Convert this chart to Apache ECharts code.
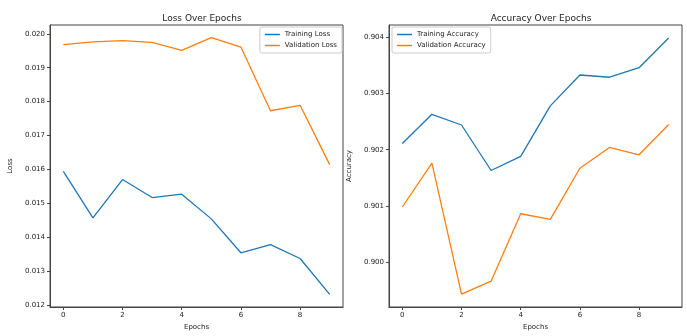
<!DOCTYPE html>
<html>
<head>
<meta charset="utf-8">
<script src="https://cdn.jsdelivr.net/npm/echarts@6/dist/echarts.min.js"></script>
<style>
  html, body { margin: 0; padding: 0; background: #fff; }
  #chart { width: 687px; height: 336px; }
</style>
</head>
<body>
<div id="chart"></div>
<script>
// data
const epochs = [0, 1, 2, 3, 4, 5, 6, 7, 8, 9];
const trainLoss = [0.01594, 0.01457, 0.01570, 0.01517, 0.01527, 0.01454, 0.01354, 0.01378, 0.01337, 0.01231];
const valLoss = [0.01968, 0.01976, 0.01980, 0.01975, 0.01951, 0.01989, 0.01961, 0.01773, 0.01789, 0.01614];
const trainAcc = [0.90211, 0.90263, 0.90244, 0.90163, 0.90188, 0.90278, 0.90333, 0.90329, 0.90346, 0.90399];
const valAcc = [0.90098, 0.90176, 0.89943, 0.89966, 0.90086, 0.90076, 0.90167, 0.90204, 0.90191, 0.90245];
const xTicks = [0, 2, 4, 6, 8];
const lossTicks = [0.012, 0.013, 0.014, 0.015, 0.016, 0.017, 0.018, 0.019, 0.020];
const accTicks = [0.900, 0.901, 0.902, 0.903, 0.904];

const BLUE = '#1f77b4';
const ORANGE = '#ff7f0e';
const FONT = 'DejaVu Sans';

const pairs = (ys) => epochs.map((x, i) => [x, ys[i]]);

const xAxis = (gridIndex) => ({
  type: 'value',
  gridIndex,
  min: -0.45,
  max: 9.45,
  name: 'Epochs',
  nameLocation: 'middle',
  nameGap: 17,
  nameTextStyle: { fontFamily: FONT, fontSize: 7, color: '#222' },
  axisLine: { show: true, onZero: false, lineStyle: { color: '#444', width: 1 } },
  axisTick: { show: true, length: 3, customValues: xTicks, lineStyle: { color: '#444' } },
  axisLabel: { customValues: xTicks, fontFamily: FONT, fontSize: 7, color: '#222', margin: 5 },
  splitLine: { show: false }
});

const yAxis = (gridIndex, name, min, max, ticks) => ({
  type: 'value',
  gridIndex,
  min,
  max,
  name,
  nameLocation: 'middle',
  nameGap: 36,
  nameTextStyle: { fontFamily: FONT, fontSize: 7, color: '#222' },
  axisLine: { show: true, onZero: false, lineStyle: { color: '#444', width: 1 } },
  axisTick: { show: true, length: 3, customValues: ticks, lineStyle: { color: '#444' } },
  axisLabel: {
    customValues: ticks,
    fontFamily: FONT, fontSize: 7, color: '#222', margin: 5,
    formatter: (v) => v.toFixed(3)
  },
  splitLine: { show: false }
});

const line = (name, data, color, xi) => ({
  name,
  type: 'line',
  xAxisIndex: xi,
  yAxisIndex: xi,
  data: pairs(data),
  showSymbol: false,
  symbol: 'none',
  lineStyle: { color, width: 1.3 },
  itemStyle: { color },
  animation: false
});

const legendBase = {
  orient: 'vertical',
  icon: 'rect',
  itemWidth: 15,
  itemHeight: 1.5,
  itemGap: 4,
  padding: [4, 5],
  borderColor: '#ccc',
  borderWidth: 1,
  borderRadius: 2,
  textStyle: { fontFamily: FONT, fontSize: 7, color: '#222' }
};

const chart = echarts.init(document.getElementById('chart'), null, { renderer: 'canvas' });
chart.setOption({
  backgroundColor: '#fff',
  animation: false,
  title: [
    { text: 'Loss Over Epochs', left: 197, top: 9, textAlign: 'center',
      textStyle: { fontFamily: FONT, fontSize: 9, fontWeight: 'normal', color: '#222' } },
    { text: 'Accuracy Over Epochs', left: 536, top: 9, textAlign: 'center',
      textStyle: { fontFamily: FONT, fontSize: 9, fontWeight: 'normal', color: '#222' } }
  ],
  legend: [
    Object.assign({}, legendBase, { data: ['Training Loss', 'Validation Loss'], right: 345, top: 27 }),
    Object.assign({}, legendBase, { data: ['Training Accuracy', 'Validation Accuracy'], left: 392, top: 27 })
  ],
  grid: [
    { left: 50, right: 344, top: 25, bottom: 22, show: true, borderColor: '#444', borderWidth: 1 },
    { left: 389, right: 5, top: 25, bottom: 22, show: true, borderColor: '#444', borderWidth: 1 }
  ],
  xAxis: [xAxis(0), xAxis(1)],
  yAxis: [
    yAxis(0, 'Loss', 0.01194, 0.02026, lossTicks),
    yAxis(1, 'Accuracy', 0.8992, 0.90422, accTicks)
  ],
  series: [
    line('Training Loss', trainLoss, BLUE, 0),
    line('Validation Loss', valLoss, ORANGE, 0),
    line('Training Accuracy', trainAcc, BLUE, 1),
    line('Validation Accuracy', valAcc, ORANGE, 1)
  ]
});
</script>
</body>
</html>
